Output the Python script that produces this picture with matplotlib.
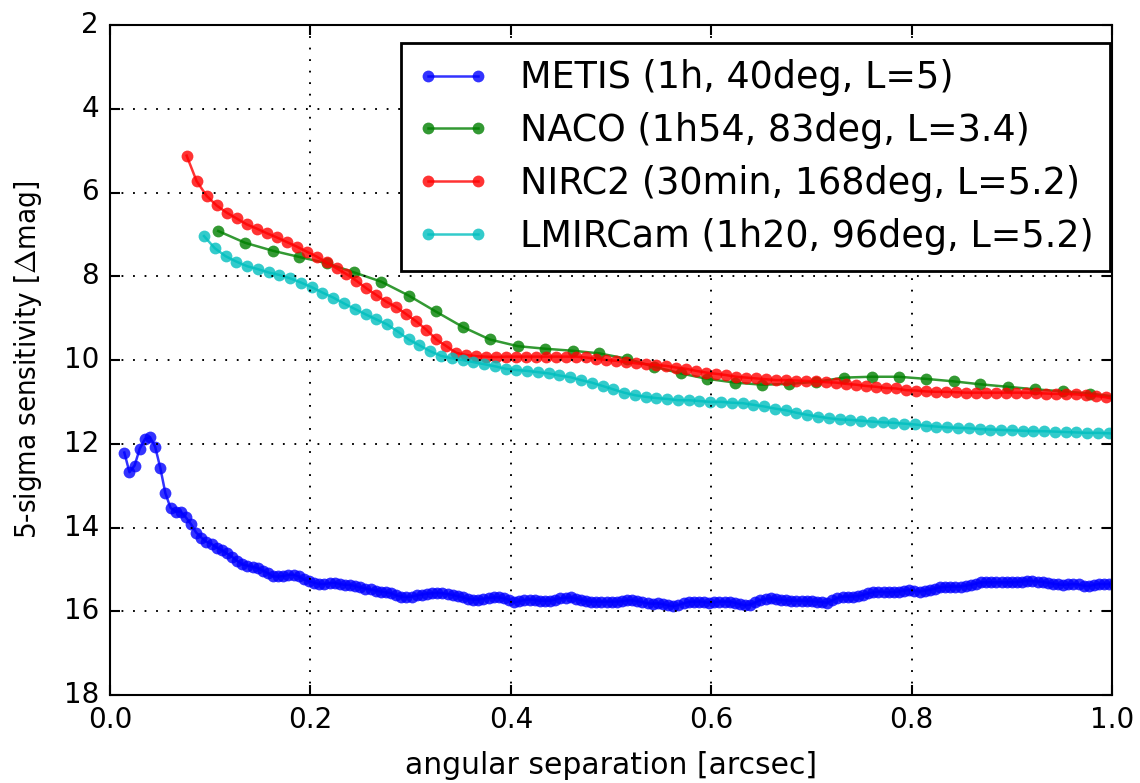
import numpy as np
import matplotlib
matplotlib.use("Agg")
import matplotlib.pyplot as plt

# METIS (1h, 40deg, L=5) - evenly sampled separations
metis_x0, metis_dx = 0.0143, 0.00512
metis_y = [12.21, 12.68, 12.52, 12.12, 11.89, 11.84, 12.07, 12.57, 13.18, 13.53,
           13.62, 13.62, 13.76, 13.92, 14.12, 14.24, 14.34, 14.39, 14.48, 14.54,
           14.62, 14.70, 14.80, 14.88, 14.91, 14.94, 14.97, 15.03, 15.09, 15.17,
           15.17, 15.16, 15.13, 15.13, 15.17, 15.24, 15.28, 15.32, 15.35, 15.35,
           15.33, 15.32, 15.35, 15.37, 15.37, 15.40, 15.43, 15.46, 15.48, 15.51,
           15.53, 15.55, 15.57, 15.62, 15.65, 15.66, 15.65, 15.62, 15.60, 15.58,
           15.57, 15.56, 15.57, 15.59, 15.61, 15.64, 15.67, 15.71, 15.72, 15.72,
           15.70, 15.68, 15.67, 15.67, 15.69, 15.73, 15.79, 15.76, 15.73, 15.72,
           15.73, 15.75, 15.75, 15.75, 15.72, 15.69, 15.68, 15.67, 15.70, 15.73,
           15.76, 15.77, 15.77, 15.77, 15.77, 15.77, 15.77, 15.76, 15.74, 15.74,
           15.76, 15.78, 15.81, 15.82, 15.81, 15.83, 15.86, 15.88, 15.85, 15.81,
           15.78, 15.77, 15.77, 15.78, 15.80, 15.79, 15.77, 15.77, 15.77, 15.80,
           15.83, 15.86, 15.84, 15.79, 15.73, 15.71, 15.69, 15.71, 15.73, 15.74,
           15.75, 15.75, 15.75, 15.76, 15.76, 15.77, 15.78, 15.80, 15.74, 15.68,
           15.65, 15.65, 15.65, 15.64, 15.61, 15.57, 15.55, 15.53, 15.54, 15.55,
           15.54, 15.53, 15.51, 15.49, 15.51, 15.53, 15.51, 15.49, 15.46, 15.43,
           15.42, 15.41, 15.41, 15.41, 15.39, 15.37, 15.34, 15.31, 15.31, 15.31,
           15.31, 15.31, 15.31, 15.31, 15.30, 15.29, 15.28, 15.28, 15.29, 15.30,
           15.32, 15.34, 15.36, 15.37, 15.36, 15.35, 15.36, 15.39, 15.40, 15.37,
           15.35, 15.35, 15.35, 15.36]

# NACO (1h54, 83deg, L=3.4)
naco_x = [0.108, 0.1347, 0.1623, 0.189, 0.2166, 0.2438, 0.2708, 0.298, 0.325, 0.352,
          0.379, 0.407, 0.434, 0.462, 0.488, 0.516, 0.543, 0.5695, 0.596, 0.624,
          0.651, 0.678, 0.705, 0.733, 0.760, 0.787, 0.814, 0.842, 0.8685, 0.896,
          0.923, 0.951, 0.978, 1.005]
naco_y = [6.92, 7.20, 7.39, 7.54, 7.69, 7.91, 8.13, 8.46, 8.84, 9.21,
          9.51, 9.67, 9.73, 9.78, 9.84, 9.97, 10.16, 10.32, 10.45, 10.54,
          10.59, 10.57, 10.52, 10.42, 10.40, 10.40, 10.45, 10.51, 10.58, 10.64,
          10.70, 10.75, 10.80, 10.88]

# NIRC2 (30min, 168deg, L=5.2)
nirc2_x0, nirc2_dx = 0.0765, 0.00997
nirc2_y = [5.12, 5.73, 6.08, 6.31, 6.48, 6.62, 6.76, 6.86, 6.97, 7.07,
           7.18, 7.29, 7.41, 7.53, 7.67, 7.81, 7.95, 8.11, 8.29, 8.45,
           8.61, 8.74, 8.91, 9.08, 9.28, 9.51, 9.67, 9.83, 9.88, 9.91,
           9.92, 9.93, 9.92, 9.92, 9.92, 9.92, 9.92, 9.92, 9.92, 9.92,
           9.94, 9.97, 10.00, 10.02, 10.05, 10.08, 10.10, 10.12, 10.14, 10.18,
           10.21, 10.26, 10.30, 10.33, 10.36, 10.40, 10.42, 10.44, 10.46, 10.48,
           10.48, 10.49, 10.50, 10.51, 10.53, 10.54, 10.57, 10.59, 10.62, 10.64,
           10.67, 10.68, 10.72, 10.73, 10.75, 10.76, 10.76, 10.77, 10.78, 10.78,
           10.78, 10.78, 10.78, 10.78, 10.78, 10.79, 10.80, 10.81, 10.81, 10.82,
           10.84, 10.86, 10.89, 10.94]

# LMIRCam (1h20, 96deg, L=5.2)
lmir_x0, lmir_dx = 0.0938, 0.01075
lmir_y = [7.04, 7.33, 7.52, 7.65, 7.76, 7.83, 7.91, 7.97, 8.05, 8.15,
          8.26, 8.39, 8.51, 8.65, 8.78, 8.91, 9.03, 9.15, 9.32, 9.51,
          9.65, 9.79, 9.90, 9.96, 10.00, 10.05, 10.10, 10.15, 10.21, 10.24,
          10.26, 10.29, 10.32, 10.37, 10.41, 10.48, 10.54, 10.62, 10.70, 10.78,
          10.84, 10.88, 10.91, 10.93, 10.96, 10.96, 10.98, 11.00, 11.00, 11.02,
          11.03, 11.07, 11.11, 11.16, 11.20, 11.26, 11.31, 11.35, 11.39, 11.42,
          11.43, 11.45, 11.47, 11.49, 11.50, 11.52, 11.54, 11.57, 11.59, 11.61,
          11.62, 11.63, 11.65, 11.66, 11.67, 11.68, 11.69, 11.70, 11.70, 11.71,
          11.72, 11.73, 11.74, 11.74, 11.75, 11.77]

labels = ['METIS (1h, 40deg, L=5)', 'NACO (1h54, 83deg, L=3.4)',
          'NIRC2 (30min, 168deg, L=5.2)', 'LMIRCam (1h20, 96deg, L=5.2)']
colors = ['b', 'g', 'r', 'c']

plt.style.use('classic')
plt.rcParams['font.family'] = ['DejaVu Sans']

metis_x = metis_x0 + metis_dx * np.arange(len(metis_y))
nirc2_x = nirc2_x0 + nirc2_dx * np.arange(len(nirc2_y))
lmir_x = lmir_x0 + lmir_dx * np.arange(len(lmir_y))

series = [(metis_x, metis_y), (naco_x, naco_y), (nirc2_x, nirc2_y), (lmir_x, lmir_y)]

fig = plt.figure(figsize=(11.4, 7.83), dpi=100, facecolor='white')
ax = fig.add_axes([110/1140, 1 - 695/783, 1002/1140, 670/783])

for (x, y), c, lab in zip(series, colors, labels):
    ax.plot(x, y, '-o', color=c, mec=c, mew=0, ms=8.5, lw=1.8, alpha=0.8, label=lab)

ax.set_xlim(0, 1)
ax.set_ylim(18, 2)
ax.set_yticks(np.arange(2, 19, 2))
ax.set_xticks(np.arange(0, 1.01, 0.2))
ax.set_xticklabels(['0.0', '0.2', '0.4', '0.6', '0.8', '1.0'])
ax.grid(True, color='k', linestyle=(0, (1.3, 7)), linewidth=1.4)
for s in ax.spines.values():
    s.set_linewidth(1.5)
ax.tick_params(which='major', direction='in', length=7, width=1.5,
               labelsize=20, top=True, right=True, pad=8)

ax.set_xlabel('angular separation [arcsec]', fontsize=21.5, labelpad=12)
ax.set_ylabel(r'5-sigma sensitivity [$\Delta$mag]', fontsize=21, labelpad=14,
              fontstretch='condensed')

leg = ax.legend(loc='upper right', bbox_to_anchor=(0.998, 1 - 18/670), borderaxespad=0,
                fontsize=26.3, numpoints=2, fancybox=False, handlelength=1.95,
                labelspacing=0.43, handletextpad=0.85, borderpad=0.45)
leg.get_frame().set_linewidth(2)
leg.get_frame().set_edgecolor('k')

fig.savefig('out.png', dpi=100, facecolor='white')
